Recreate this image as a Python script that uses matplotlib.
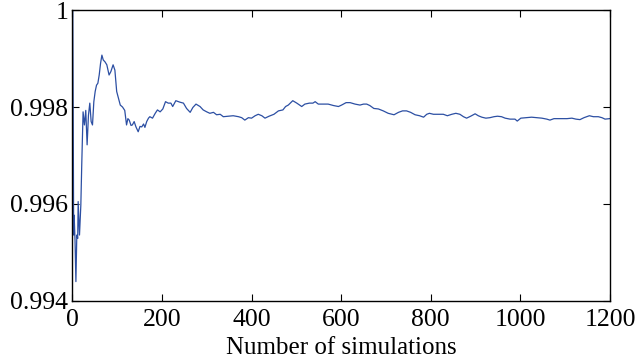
import numpy as np
import matplotlib.pyplot as plt

plt.rcParams["font.family"] = ["Liberation Serif", "DejaVu Serif"]

sims = [1, 2, 3, 4, 6, 8, 10, 12, 13, 16, 19, 21, 24, 27, 30, 33, 36, 39, 42, 45,
        48, 51, 54, 57, 60, 63, 66, 69, 73, 77, 82, 86, 91, 95, 99, 103, 107, 112,
        117, 121, 124, 127, 131, 134, 138, 142, 147, 151, 155, 159, 162, 166, 170,
        173, 179, 185, 190, 196, 202, 208, 214, 220, 224, 231, 240, 248, 255, 263,
        269, 276, 285, 292, 300, 307, 315, 322, 330, 337, 348, 359, 371, 378, 385,
        393, 400, 408, 415, 423, 430, 439, 450, 460, 470, 476, 482, 492, 501, 512,
        519, 529, 537, 542, 549, 560, 571, 583, 594, 601, 611, 620, 631, 642, 650,
        657, 664, 673, 683, 694, 705, 718, 728, 737, 746, 755, 765, 775, 784, 791,
        797, 806, 817, 828, 837, 847, 856, 865, 873, 880, 889, 899, 906, 914, 923,
        932, 941, 949, 958, 966, 977, 988, 993, 1001, 1013, 1025, 1037, 1048, 1059,
        1066, 1075, 1089, 1104, 1115, 1124, 1133, 1142, 1154, 1163, 1174, 1182,
        1189, 1199]
prob = [1.0, 0.99763, 0.99536, 0.99577, 0.99526, 0.99440, 0.99536, 0.99529, 0.99605,
        0.99536, 0.99598, 0.99680, 0.99790, 0.99763, 0.99793, 0.99722, 0.99783,
        0.99808, 0.99770, 0.99763, 0.99811, 0.99832, 0.99845, 0.99849, 0.99866,
        0.99890, 0.99907, 0.99897, 0.99893, 0.99887, 0.99866, 0.99873, 0.99887,
        0.99876, 0.99832, 0.99818, 0.99804, 0.99800, 0.99793, 0.99763, 0.99776,
        0.99773, 0.99762, 0.99763, 0.99770, 0.99759, 0.99749, 0.99760, 0.99759,
        0.99765, 0.99758, 0.99770, 0.99777,
        0.99780, 0.99777, 0.99787, 0.99794, 0.99790, 0.99796, 0.99811, 0.99808,
        0.99808, 0.99801, 0.99813, 0.99810, 0.99808, 0.99797, 0.99789, 0.99799,
        0.99806, 0.99801, 0.99794, 0.99790, 0.99787, 0.99789, 0.99784, 0.99785,
        0.99780, 0.99781, 0.99782, 0.99780, 0.99778, 0.99773, 0.99778, 0.99777,
        0.99782, 0.99785, 0.99782, 0.99777, 0.99781, 0.99785, 0.99792, 0.99794,
        0.99801, 0.99804, 0.99813, 0.99808, 0.99801, 0.99806, 0.99808, 0.99808,
        0.99811, 0.99806, 0.99806, 0.99806, 0.99803, 0.99801, 0.99804, 0.99809,
        0.99809, 0.99806, 0.99804, 0.99806, 0.99806, 0.99803, 0.99797, 0.99796,
        0.99792, 0.99787, 0.99784, 0.99789, 0.99792, 0.99792, 0.99789, 0.99784,
        0.99782, 0.99779, 0.99785, 0.99787, 0.99785, 0.99785, 0.99785, 0.99782,
        0.99785, 0.99787, 0.99785, 0.99780, 0.99777, 0.99781, 0.99786, 0.99782,
        0.99779, 0.99777, 0.99778, 0.99780, 0.99781, 0.99780, 0.99777, 0.99775,
        0.99775, 0.99771, 0.99777, 0.99778, 0.99779, 0.99778, 0.99777, 0.99775,
        0.99773, 0.99776, 0.99776, 0.99776, 0.99777, 0.99775, 0.99774, 0.99778,
        0.99782, 0.99780, 0.99780, 0.99778, 0.99775, 0.99776]

x_ticks = [0, 200, 400, 600, 800, 1000, 1200]
y_ticks = [0.994, 0.996, 0.998, 1.0]
y_tick_labels = ["0.994", "0.996", "0.998", "1"]

fig = plt.figure(figsize=(6.35, 3.6), dpi=100)
ax = fig.add_axes([0.1139, 0.1639, 0.8467, 0.8083])
ax.plot(sims, prob, color="#2c4fa3", linewidth=0.9)
ax.set_xlim(0, 1200)
ax.set_ylim(0.994, 1.0)
ax.set_xticks(x_ticks)
ax.set_yticks(y_ticks)
ax.set_yticklabels(y_tick_labels)
ax.tick_params(direction="in", top=True, right=True, length=5, width=0.8,
               labelsize=18.5)
ax.tick_params(axis="x", pad=6)
ax.tick_params(axis="y", pad=3)
for s in ax.spines.values():
    s.set_linewidth(1.0)
ax.set_xlabel("Number of simulations", fontsize=18, labelpad=4)

fig.savefig("out.png", dpi=100)
plt.close(fig)
